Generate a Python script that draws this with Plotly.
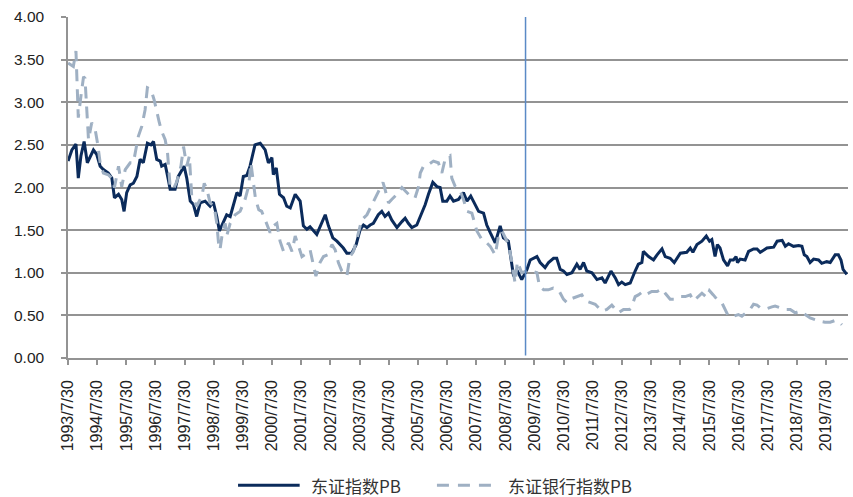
import plotly.graph_objects as go

# ---- data (time in fractional years) ----
sse_t = [1993.58,1993.71,1993.85,1993.93,1994.02,1994.13,1994.24,1994.45,1994.56,1994.68,1994.79,1994.96,
         1995.08,1995.17,1995.31,1995.42,1995.50,1995.59,1995.71,1995.82,1995.94,1996.05,1996.16,1996.30,
         1996.42,1996.51,1996.62,1996.74,1996.79,1996.91,1997.02,1997.08,1997.25,1997.36,1997.56,1997.65,
         1997.77,1997.88,1997.99,1998.11,1998.28,1998.45,1998.56,1998.68,1998.77,1998.91,1999.02,1999.14,
         1999.25,1999.37,1999.48,1999.59,1999.71,1999.82,1999.99,2000.17,2000.34,2000.45,2000.57,2000.62,
         2000.72,2000.83,2000.97,2001.08,2001.20,2001.37,2001.54,2001.65,2001.77,2001.88,2002.11,2002.28,
         2002.40,2002.51,2002.66,2002.80,2002.91,2003.02,2003.14,2003.31,2003.46,2003.60,2003.71,2003.83,
         2003.94,2004.05,2004.22,2004.34,2004.45,2004.57,2004.68,2004.86,2005.03,2005.14,2005.25,2005.37,
         2005.54,2005.66,2005.83,2005.94,2006.09,2006.23,2006.34,2006.43,2006.57,2006.68,2006.80,2006.97,
         2007.14,2007.26,2007.39,2007.48,2007.66,2007.83,2007.94,2008.06,2008.23,2008.40,2008.51,2008.68,
         2008.80,2008.86,2008.99,2009.14,2009.32,2009.43,2009.66,2009.77,2009.94,2010.06,2010.23,2010.34,
         2010.46,2010.57,2010.69,2010.86,2011.03,2011.14,2011.26,2011.37,2011.55,2011.72,2011.89,2012.00,
         2012.20,2012.35,2012.46,2012.57,2012.69,2012.86,2013.03,2013.14,2013.26,2013.31,2013.49,2013.66,
         2013.78,2013.95,2014.06,2014.23,2014.37,2014.58,2014.80,2014.92,2015.01,2015.15,2015.32,2015.47,
         2015.58,2015.66,2015.77,2015.85,2015.94,2016.06,2016.20,2016.29,2016.40,2016.49,2016.54,2016.63,
         2016.80,2016.92,2017.09,2017.21,2017.32,2017.55,2017.78,2017.90,2018.07,2018.18,2018.29,2018.46,
         2018.64,2018.75,2018.83,2018.92,2019.03,2019.15,2019.32,2019.43,2019.60,2019.72,2019.89,2020.00,
         2020.09,2020.16,2020.29]
sse_pb = [2.31,2.44,2.51,2.11,2.37,2.54,2.29,2.44,2.39,2.25,2.21,2.17,
          2.11,1.88,1.92,1.86,1.72,1.94,2.03,2.05,2.13,2.33,2.29,2.52,
          2.50,2.54,2.33,2.31,2.25,2.27,2.09,1.98,1.98,2.13,2.25,2.11,
          1.84,1.80,1.66,1.82,1.84,1.78,1.83,1.66,1.49,1.60,1.68,1.66,
          1.78,1.94,1.90,2.13,2.14,2.25,2.50,2.52,2.44,2.29,2.35,2.15,
          2.23,1.92,1.88,1.78,1.76,1.92,1.84,1.55,1.51,1.54,1.45,1.58,
          1.68,1.55,1.41,1.37,1.33,1.29,1.23,1.23,1.33,1.51,1.56,1.53,
          1.56,1.58,1.68,1.72,1.66,1.70,1.62,1.53,1.60,1.64,1.58,1.53,
          1.56,1.66,1.80,1.92,2.06,2.01,2.00,1.84,1.84,1.90,1.84,1.86,
          1.94,1.84,1.90,1.84,1.72,1.70,1.56,1.47,1.35,1.55,1.41,1.37,
          1.12,0.96,1.02,0.92,1.04,1.15,1.19,1.12,1.06,1.12,1.17,1.17,
          1.04,1.02,0.98,1.00,1.10,1.04,1.12,1.02,1.00,0.92,0.94,0.88,
          1.02,0.94,0.86,0.89,0.86,0.88,1.02,1.10,1.12,1.25,1.19,1.15,
          1.21,1.28,1.19,1.17,1.12,1.23,1.24,1.29,1.24,1.33,1.37,1.43,
          1.37,1.39,1.19,1.33,1.29,1.15,1.08,1.15,1.15,1.19,1.12,1.16,
          1.15,1.25,1.28,1.28,1.24,1.29,1.30,1.37,1.38,1.31,1.34,1.31,
          1.32,1.31,1.21,1.19,1.12,1.16,1.15,1.11,1.13,1.12,1.21,1.21,
          1.15,1.04,0.98]

bank_t = [1993.58,1993.76,1993.85,1993.93,1994.02,1994.11,1994.16,1994.22,1994.28,1994.39,1994.51,1994.59,
          1994.68,1994.79,1994.96,1995.08,1995.17,1995.31,1995.42,1995.54,1995.71,1995.82,1995.99,1996.11,
          1996.22,1996.30,1996.42,1996.53,1996.60,1996.71,1996.79,1996.91,1996.99,1997.08,1997.19,1997.31,
          1997.45,1997.54,1997.65,1997.74,1997.82,1997.99,1998.17,1998.25,1998.34,1998.45,1998.59,1998.68,
          1998.74,1998.79,1998.89,1998.97,1999.02,1999.14,1999.31,1999.48,1999.65,1999.77,1999.85,1999.95,
          2000.01,2000.12,2000.22,2000.34,2000.51,2000.62,2000.74,2000.85,2000.97,2001.14,2001.26,2001.37,
          2001.48,2001.60,2001.77,2001.88,2002.00,2002.08,2002.22,2002.34,2002.48,2002.63,2002.74,2002.85,
          2002.97,2003.14,2003.25,2003.37,2003.48,2003.65,2003.83,2004.00,2004.11,2004.22,2004.38,2004.45,
          2004.57,2004.68,2004.86,2005.03,2005.20,2005.37,2005.48,2005.60,2005.66,2005.77,2005.94,2006.11,
          2006.28,2006.40,2006.51,2006.68,2006.74,2006.86,2007.03,2007.14,2007.26,2007.43,2007.60,2007.77,
          2007.94,2008.06,2008.23,2008.34,2008.46,2008.61,2008.69,2008.80,2008.91,2008.99,2009.14,2009.32,
          2009.49,2009.66,2009.75,2009.89,2010.05,2010.22,2010.40,2010.57,2010.69,2010.80,2011.03,2011.20,
          2011.32,2011.49,2011.66,2011.89,2012.06,2012.23,2012.35,2012.46,2012.63,2012.84,2012.92,2013.03,
          2013.14,2013.26,2013.37,2013.49,2013.60,2013.78,2013.95,2014.06,2014.23,2014.40,2014.58,2014.75,
          2014.92,2015.03,2015.20,2015.32,2015.49,2015.58,2015.71,2015.83,2016.00,2016.12,2016.23,2016.40,
          2016.57,2016.69,2016.80,2016.97,2017.09,2017.21,2017.32,2017.55,2017.72,2017.83,2018.00,2018.18,
          2018.35,2018.52,2018.69,2018.86,2019.03,2019.20,2019.37,2019.54,2019.72,2019.89,2020.00,2020.12]
bank_pb = [3.46,3.42,3.60,2.82,3.07,3.30,3.28,2.87,2.56,2.76,2.68,2.52,
           2.29,2.17,2.15,2.11,2.00,2.25,2.01,2.21,2.29,2.29,2.60,2.72,
           2.91,3.17,3.15,3.03,2.91,2.76,2.66,2.56,2.41,2.01,1.98,2.07,
           2.25,2.48,2.25,2.37,1.90,1.78,1.90,2.05,1.98,1.82,1.78,1.58,
           1.35,1.27,1.51,1.58,1.43,1.58,1.68,1.72,1.86,2.01,2.29,2.05,
           1.86,1.74,1.72,1.62,1.47,1.55,1.58,1.37,1.25,1.35,1.25,1.43,
           1.31,1.19,1.23,1.27,1.08,0.96,1.12,1.19,1.21,1.33,1.27,1.12,
           1.02,0.96,1.19,1.25,1.39,1.62,1.68,1.80,1.86,1.94,2.06,1.98,
           1.82,1.86,1.92,2.00,1.94,1.88,1.88,2.01,2.17,2.25,2.27,2.31,
           2.29,2.17,2.33,2.37,2.11,2.01,1.96,1.86,1.72,1.70,1.49,1.39,
           1.35,1.31,1.21,1.43,1.49,1.39,1.33,1.13,0.88,1.13,1.00,1.02,
           1.02,1.00,0.84,0.80,0.80,0.82,0.80,0.69,0.65,0.69,0.72,0.74,
           0.67,0.65,0.63,0.55,0.57,0.62,0.57,0.53,0.57,0.57,0.61,0.72,
           0.74,0.77,0.74,0.76,0.78,0.78,0.81,0.76,0.69,0.69,0.72,0.72,
           0.74,0.67,0.72,0.76,0.71,0.79,0.74,0.69,0.65,0.57,0.49,0.49,
           0.51,0.49,0.52,0.57,0.63,0.62,0.59,0.58,0.60,0.61,0.59,0.57,
           0.57,0.53,0.55,0.51,0.47,0.45,0.43,0.42,0.42,0.44,0.43,0.39]

tick_years = list(range(1993, 2020))
tick_labels = [f"{y}/7/30" for y in tick_years]
marker_line_year = 2009.27
series_names = ["东证指数PB", "东证银行指数PB"]

NAVY = "#0b2b5b"
STEEL = "#9fb0c3"
GRID = "#939393"
FONT = "Liberation Sans, Arial, Noto Sans CJK SC, sans-serif"

fig = go.Figure()
fig.add_trace(go.Scatter(x=sse_t, y=sse_pb, mode="lines", name=series_names[0],
                         line=dict(color=NAVY, width=3), showlegend=False))
fig.add_trace(go.Scatter(x=bank_t, y=bank_pb, mode="lines", name=series_names[1],
                         line=dict(color=STEEL, width=3, dash="12px,8px"), showlegend=False))

# vertical reference line
fig.add_shape(type="line", xref="x", yref="y", x0=marker_line_year, x1=marker_line_year,
              y0=0.03, y1=4.0, line=dict(color="#5a8ac6", width=1.5), layer="above")

# custom legend (line samples + labels)
LY = -0.373
fig.add_shape(type="line", xref="paper", yref="paper", x0=0.218, x1=0.297, y0=LY, y1=LY,
              line=dict(color=NAVY, width=3))
fig.add_shape(type="line", xref="paper", yref="paper", x0=0.473, x1=0.546, y0=LY, y1=LY,
              line=dict(color=STEEL, width=3, dash="12px,9px"))
fig.add_annotation(xref="paper", yref="paper", x=0.309, y=LY, text=series_names[0],
                   showarrow=False, xanchor="left", yanchor="middle",
                   font=dict(family="Noto Sans CJK SC, Liberation Sans", size=17, color="#333333"))
fig.add_annotation(xref="paper", yref="paper", x=0.561, y=LY, text=series_names[1],
                   showarrow=False, xanchor="left", yanchor="middle",
                   font=dict(family="Noto Sans CJK SC, Liberation Sans", size=17, color="#333333"))

fig.update_layout(
    width=853, height=497,
    margin=dict(l=68, r=5, t=17, b=138.5, autoexpand=False),
    plot_bgcolor="white", paper_bgcolor="white",
    font=dict(family=FONT, size=15, color="#222222"),
    showlegend=False,
)
fig.update_xaxes(
    range=[1993.577, 2020.33],
    tickmode="array",
    tickvals=[y + 0.577 for y in tick_years],
    ticktext=tick_labels,
    tickangle=-90,
    tickfont=dict(size=16),
    ticks="outside", ticklen=5, tickcolor=GRID, tickwidth=1.5,
    showline=True, linecolor=GRID, linewidth=1.5,
    showgrid=False, zeroline=False,
    ticklabelstandoff=9,
)
fig.update_yaxes(
    range=[0, 4], dtick=0.5, tick0=0, tickformat=".2f",
    tickfont=dict(size=15.5),
    ticks="outside", ticklen=5, tickcolor=GRID, tickwidth=1.5,
    showline=True, linecolor=GRID, linewidth=1.5,
    showgrid=True, gridcolor=GRID, gridwidth=1.5,
    zeroline=False,
    ticklabelstandoff=14,
)

fig.write_html("out.html")
